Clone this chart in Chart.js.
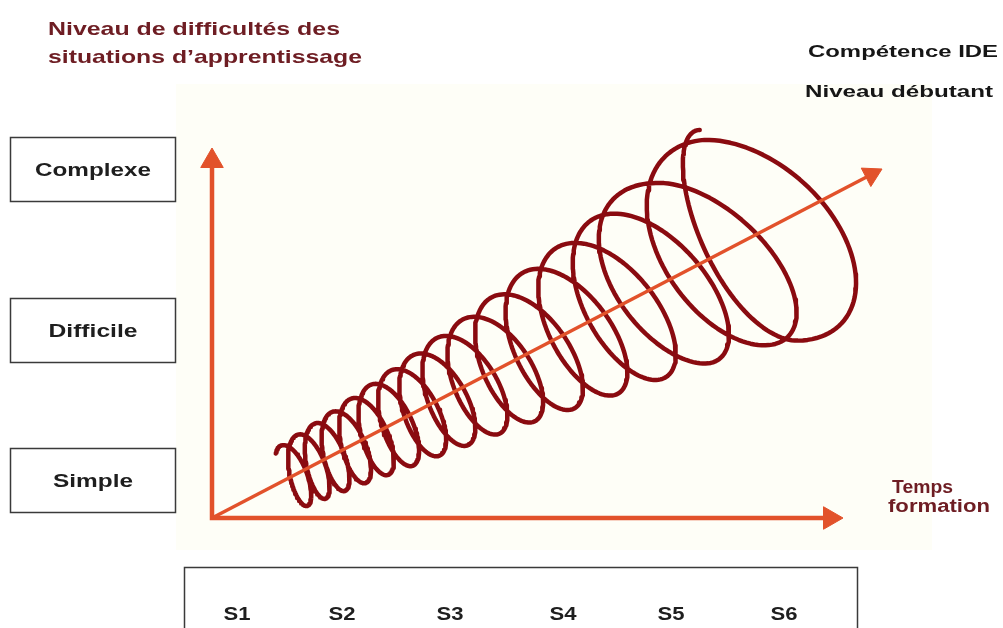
<!DOCTYPE html>
<html><head><meta charset="utf-8">
<script src="https://cdn.jsdelivr.net/npm/chart.js@4"></script>
<style>html,body{margin:0;padding:0;background:#fff;overflow:hidden}canvas{display:block}</style>
</head><body>
<canvas id="c" width="1003" height="628"></canvas>
<script>
// ---------- data ----------
const levelLabels    = ['Complexe', 'Difficile', 'Simple'];
const semesterLabels = ['S1', 'S2', 'S3', 'S4', 'S5', 'S6'];
const semesterX      = [237, 342, 450, 563, 671, 784];

const axisOrigin = [212, 518];
const yAxisEnd   = [212, 148];
const xAxisEnd   = [843, 518];
const diagEnd    = [882, 169];

// helix: one entry per loop top — centre on the diagonal (x), half height, front/back half widths, tilt (deg)
const loopCx   = [290, 307, 325, 344, 364, 386, 409, 434, 461, 491, 524, 561, 601, 644, 690, 750, 750];
const loopR    = [33, 35, 37, 39, 42, 45, 48, 51, 55, 59, 65, 72, 78, 86, 94, 108, 119];
const loopWr   = [13, 14, 15, 17, 19, 21, 24, 27, 30, 34, 38, 43, 49, 56, 66, 95, 95];
const loopWl   = [13, 14, 15, 17, 19, 21, 24, 27, 30, 34, 38, 43, 49, 56, 78, 82, 40];
const loopTilt = [13, 13, 13, 14, 14, 15, 16, 17, 18, 19, 20, 21, 22, 23, 24, 25, 25];

// ---------- build series ----------
function axisY(x) {
  return axisOrigin[1] + (diagEnd[1] - axisOrigin[1]) * (x - axisOrigin[0]) / (diagEnd[0] - axisOrigin[0]);
}
function lerpArr(a, k) {
  if (k <= 0) return a[0];
  const i = Math.min(Math.floor(k), a.length - 2);
  const f = k - i;
  return a[i] * (1 - f) + a[i + 1] * f;
}
const spiral = [];
const nLoops = loopCx.length - 1;
const steps = 120;
for (let j = Math.round(-0.12 * steps); j <= nLoops * steps; j++) {
  const k = j / steps;
  const th = Math.PI + 2 * Math.PI * k;
  const cx = lerpArr(loopCx, k), cy = axisY(cx);
  const R = lerpArr(loopR, k);
  const s = Math.sin(th);
  const W = s < 0 ? lerpArr(loopWr, k) : lerpArr(loopWl, k);
  const t = lerpArr(loopTilt, k) * Math.PI / 180;
  spiral.push({
    x: cx + R * Math.cos(th) * Math.sin(t) - W * s,
    y: cy + R * Math.cos(th) * Math.cos(t)
  });
}
function head(end, r) {
  const dx = end[0] - axisOrigin[0], dy = end[1] - axisOrigin[1];
  const L = Math.hypot(dx, dy);
  return { pt: { x: end[0] - dx / L * r, y: end[1] - dy / L * r }, rot: Math.atan2(dx, -dy) * 180 / Math.PI };
}
const hY = head(yAxisEnd, 13), hX = head(xAxisEnd, 13), hD = head(diagEnd, 12);

const ORANGE = '#e2522b';
const SPIRAL = '#8a0b10';
const MAROON = '#6e1d23';

// ---------- decorations (panel, boxes, texts) ----------
function stretchText(ctx, txt, x, y, size, width, align, color) {
  ctx.save();
  ctx.font = 'bold ' + size + 'px "Liberation Sans", Arial, sans-serif';
  ctx.fillStyle = color;
  ctx.textBaseline = 'alphabetic';
  const w = ctx.measureText(txt).width;
  const sx = width / w;
  let left = x;
  if (align === 'center') left = x - width / 2;
  if (align === 'right') left = x - width;
  ctx.translate(left, y);
  ctx.scale(sx, 1);
  ctx.textAlign = 'left';
  ctx.fillText(txt, 0, 0);
  ctx.restore();
}
const levelBoxY = [137, 298, 448];
const levelTextW = [116, 89, 80];
const decor = {
  id: 'decor',
  beforeDatasetsDraw(chart) {
    const ctx = chart.ctx;
    ctx.save();
    ctx.fillStyle = '#fefef7';
    ctx.fillRect(176, 84, 756, 466);
    ctx.restore();
  },
  afterDraw(chart) {
    const ctx = chart.ctx;
    ctx.save();
    ctx.strokeStyle = '#3a3a3a';
    ctx.lineWidth = 1.5;
    levelLabels.forEach((lab, i) => {
      ctx.strokeRect(10.5, levelBoxY[i] + 0.5, 165, 64);
      stretchText(ctx, lab, 93, levelBoxY[i] + 39, 19, levelTextW[i], 'center', '#1e1e1e');
    });
    ctx.strokeRect(184.5, 567.5, 673, 80);
    semesterLabels.forEach((lab, i) => {
      stretchText(ctx, lab, semesterX[i], 620, 18, 27, 'center', '#1e1e1e');
    });
    stretchText(ctx, 'Niveau de difficultés des', 48, 35, 19, 292, 'left', MAROON);
    stretchText(ctx, 'situations d\u2019apprentissage', 48, 63, 19, 314, 'left', MAROON);
    stretchText(ctx, 'Compétence IDE', 808, 57, 17, 190, 'left', '#161616');
    stretchText(ctx, 'Niveau débutant', 805, 97, 17, 188, 'left', '#161616');
    stretchText(ctx, 'Temps', 892, 493, 18, 61, 'left', MAROON);
    stretchText(ctx, 'formation', 888, 512, 18, 102, 'left', MAROON);
    ctx.restore();
  }
};

new Chart(document.getElementById('c'), {
  type: 'scatter',
  data: {
    datasets: [
      { label: 'heads', data: [hY.pt, hX.pt, hD.pt], pointStyle: 'triangle',
        pointRotation: [hY.rot, hX.rot, hD.rot], pointRadius: [13, 13, 12],
        backgroundColor: ORANGE, borderColor: ORANGE, borderWidth: 1, showLine: false, order: 0 },
      { label: 'diag', data: [{x: axisOrigin[0], y: axisOrigin[1]}, {x: hD.pt.x, y: hD.pt.y}],
        showLine: true, borderColor: ORANGE, borderWidth: 3.5, pointRadius: 0, order: 1 },
      { label: 'spiral', data: spiral, showLine: true, borderColor: SPIRAL, borderWidth: 4.5,
        pointRadius: 0, tension: 0, borderCapStyle: 'round', borderJoinStyle: 'round', order: 2 },
      { label: 'axes', data: [{x: yAxisEnd[0], y: hY.pt.y}, {x: axisOrigin[0], y: axisOrigin[1]}, {x: hX.pt.x, y: xAxisEnd[1]}],
        showLine: true, borderColor: ORANGE, borderWidth: 4.5, pointRadius: 0, order: 3, borderJoinStyle: 'miter' }
    ]
  },
  options: {
    responsive: false, animation: false, devicePixelRatio: 1, events: [],
    layout: { padding: 0, autoPadding: false },
    plugins: { legend: { display: false }, tooltip: { enabled: false }, title: { display: false } },
    scales: {
      x: { type: 'linear', min: 0, max: 1003, display: false },
      y: { type: 'linear', min: 0, max: 628, reverse: true, display: false }
    }
  },
  plugins: [decor]
});
</script>
</body></html>
